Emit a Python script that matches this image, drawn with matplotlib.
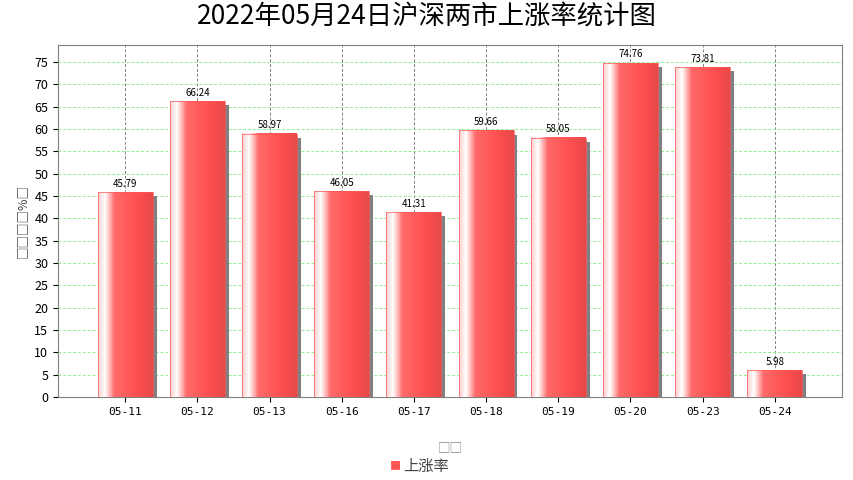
import matplotlib
matplotlib.use("Agg")
import matplotlib.pyplot as plt
import numpy as np
from matplotlib.colors import LinearSegmentedColormap

plt.rcParams['font.family'] = ['Noto Sans CJK SC', 'DejaVu Sans']

categories = ["05-11","05-12","05-13","05-16","05-17","05-18","05-19","05-20","05-23","05-24"]
values = [45.79, 66.24, 58.97, 46.05, 41.31, 59.66, 58.05, 74.76, 73.81, 5.98]
yticks = list(range(0, 80, 5))

fig = plt.figure(figsize=(8.54, 4.8), dpi=100)
ax = fig.add_axes([58/854, 1-397/480, (842-58)/854, (397-45)/480])
ax.set_xlim(-0.93, 9.93)
ax.set_ylim(0, 78.8)
ax.set_yticks(yticks)
ax.set_xticks(range(len(categories)))
ax.set_xticklabels(categories, fontsize=8, family='DejaVu Sans Mono')
for t in ax.get_yticklabels():
    t.set_fontsize(9)
ax.grid(axis='y', color='#90ee90', linestyle=(0, (3, 2)), linewidth=0.7)
ax.grid(axis='x', color='#808080', linestyle=(0, (3, 2)), linewidth=0.7)
ax.set_axisbelow(True)
for s in ax.spines.values():
    s.set_color('#808080')

cmap = LinearSegmentedColormap.from_list('g', [(0, '#ffd0d0'), (0.12, '#ffffff'), (0.3, '#ff6a6a'), (0.7, '#ff5050'), (1, '#e84848')])
grad = np.linspace(0, 1, 64).reshape(1, -1)
w = 0.76
dx, dy = 0.055, 0.9
for i, v in enumerate(values):
    ax.bar(i + dx, v, width=w, bottom=-dy, color='#808080', zorder=2)
    ax.imshow(grad, cmap=cmap, aspect='auto', extent=(i - w/2, i + w/2, 0, v), zorder=3)
    ax.add_patch(plt.Rectangle((i - w/2, 0), w, v, fill=False, edgecolor='#ff5555', linewidth=0.5, zorder=4))
    ax.text(i, v + 0.8, f"{v:.2f}", ha='center', va='bottom', fontsize=7, zorder=5)
ax.set_xlim(-0.93, 9.93)
ax.set_ylim(0, 78.8)

ax.set_ylabel("□□□□%□", fontsize=9, color='#444444')
ax.set_xlabel("□□", fontsize=9, color='#888888', labelpad=18)
fig.suptitle("2022年05月24日沪深两市上涨率统计图", y=0.995, fontsize=19, style='italic')
fig.text(0.47, 0.028, "■", color='#ff5555', fontsize=8, ha='right', va='center')
fig.text(0.472, 0.028, "上涨率", fontsize=11, ha='left', va='center', color='#444444')
fig.savefig("out.png", dpi=100)
